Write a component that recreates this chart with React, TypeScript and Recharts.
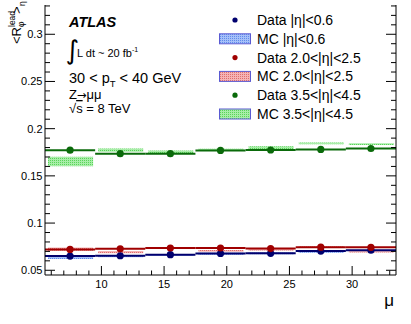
import { Bar, ComposedChart, ErrorBar, Legend, Scatter, XAxis, YAxis } from 'recharts';

// bins in mu (width 4)
const binCenters = [7.5, 11.5, 15.5, 19.5, 23.5, 27.5, 31.5];
const binHalfWidth = 2;

// data points
const dataCentral = [0.065, 0.0654, 0.0665, 0.0678, 0.068, 0.0703, 0.0712];
const dataMid = [0.0721, 0.0728, 0.0736, 0.0736, 0.073, 0.0745, 0.0743];
const dataFwd = [0.1772, 0.1735, 0.1735, 0.177, 0.1774, 0.178, 0.179];

// MC central values and band half-heights
const mcCentral = [0.0637, 0.0647, 0.0661, 0.0675, 0.0679, 0.0696, 0.0704];
const mcCentralErr = [0.0017, 0.001, 0.001, 0.001, 0.001, 0.001, 0.001];
const mcMid = [0.0725, 0.0692, 0.0736, 0.0705, 0.0722, 0.0745, 0.0702];
const mcMidErr = [0.0017, 0.0011, 0.001, 0.001, 0.0012, 0.001, 0.0013];
const mcFwd = [0.1653, 0.1772, 0.1751, 0.1777, 0.1796, 0.1844, 0.1836];
const mcFwdErr = [0.005, 0.0017, 0.0017, 0.001, 0.0017, 0.001, 0.001];

const xMajorTicks = [10, 15, 20, 25, 30];
const yMajorTicks = [0.05, 0.1, 0.15, 0.2, 0.25, 0.3];

const legendLabels = [
  'Data |η|<0.6',
  'MC |η|<0.6',
  'Data 2.0<|η|<2.5',
  'MC 2.0<|η|<2.5',
  'Data 3.5<|η|<4.5',
  'MC 3.5<|η|<4.5',
];

const W = 411;
const H = 324;
const M = { top: 5, right: 15, bottom: 49, left: 45 };
const xDomain = [5.5, 33.5];
const yDomain = [0.045, 0.331];
const FONT = '"Liberation Sans", Arial, Helvetica, sans-serif';

const col = {
  blue: '#00006e',
  red: '#a00000',
  green: '#0a6a0a',
};

const rows = binCenters.map((x, i) => ({
  x,
  ex: binHalfWidth,
  dC: dataCentral[i],
  dM: dataMid[i],
  dF: dataFwd[i],
  mC: [mcCentral[i] - mcCentralErr[i], mcCentral[i] + mcCentralErr[i]],
  mM: [mcMid[i] - mcMidErr[i], mcMid[i] + mcMidErr[i]],
  mF: [mcFwd[i] - mcFwdErr[i], mcFwd[i] + mcFwdErr[i]],
}));

// one bin in pixels
const binPx = ((W - M.left - M.right) / (xDomain[1] - xDomain[0])) * binHalfWidth * 2;

const xTicks: number[] = [];
for (let v = 6; v <= 33; v++) xTicks.push(v);
const yTicks: number[] = [];
for (let i = 0; i <= 28; i++) yTicks.push(+(0.05 + i * 0.01).toFixed(2));

const isMajor = (v: number, list: number[]) => list.some((m) => Math.abs(m - v) < 1e-6);

const BottomTick = (p: any) => {
  const major = isMajor(p.payload.value, xMajorTicks);
  return (
    <g>
      <line x1={p.x} x2={p.x} y1={p.y} y2={p.y - (major ? 9 : 4.5)} stroke="#000" />
      {major && (
        <text x={p.x} y={p.y + 12.5} textAnchor="middle" fontSize={11} fontFamily={FONT} fill="#000">
          {p.payload.value}
        </text>
      )}
    </g>
  );
};

const TopTick = (p: any) => {
  const major = isMajor(p.payload.value, xMajorTicks);
  return <line x1={p.x} x2={p.x} y1={p.y} y2={p.y + (major ? 9 : 4.5)} stroke="#000" />;
};

const LeftTick = (p: any) => {
  const major = isMajor(p.payload.value, yMajorTicks);
  return (
    <g>
      <line x1={p.x} x2={p.x + (major ? 10 : 5)} y1={p.y} y2={p.y} stroke="#000" />
      {major && (
        <text x={p.x - 2.5} y={p.y + 4} textAnchor="end" fontSize={11} fontFamily={FONT} fill="#000">
          {String(+p.payload.value.toFixed(2))}
        </text>
      )}
    </g>
  );
};

const RightTick = (p: any) => {
  const major = isMajor(p.payload.value, yMajorTicks);
  return <line x1={p.x} x2={p.x - (major ? 10 : 5)} y1={p.y} y2={p.y} stroke="#000" />;
};

const Dot = (color: string) => (p: any) => <circle cx={p.cx} cy={p.cy} r={3.6} fill={color} />;

const legendKinds = ['data', 'mc', 'data', 'mc', 'data', 'mc'];
const legendColors = [col.blue, 'url(#hatchBlue)', col.red, 'url(#hatchRed)', col.green, 'url(#hatchGreen)'];

const renderLegend = () => (
  <svg width={195} height={125} style={{ display: 'block' }}>
    {legendLabels.map((label, i) => {
      const cy = 20 + i * 18.8;
      return (
        <g key={label}>
          {legendKinds[i] === 'data' ? (
            <circle cx={25} cy={cy} r={2.6} fill={legendColors[i]} />
          ) : (
            <rect x={9.5} y={cy - 5} width={31} height={10} fill={legendColors[i]} stroke="#5a5ad2" />
          )}
          <text x={47} y={cy + 5} fontSize={14} fontFamily={FONT} fill="#000">
            {label}
          </text>
        </g>
      );
    })}
  </svg>
);

// fine dotted fill, like the ROOT hatch styles at this resolution
const Hatch = ({ id, bg, fg }: { id: string; bg: string; fg: string }) => (
  <pattern id={id} patternUnits="userSpaceOnUse" width={2} height={2}>
    <rect width={2} height={2} fill={bg} />
    <rect width={1} height={1} fill={fg} />
  </pattern>
);

export default function App() {
  return (
    <div style={{ position: 'absolute', left: 0, top: 0, width: W, height: H, background: '#fff', fontFamily: FONT }}>
      <svg width={0} height={0} style={{ position: 'absolute' }}>
        <defs>
          <Hatch id="hatchBlue" bg="#a6c0f8" fg="#5f8cec" />
          <Hatch id="hatchRed" bg="#f5b4b4" fg="#df6e6e" />
          <Hatch id="hatchGreen" bg="#a8eea8" fg="#5ad45a" />
        </defs>
      </svg>
      <ComposedChart width={W} height={H} data={rows} margin={{ top: M.top, right: 0, bottom: 0, left: 0 }}>
        <XAxis
          xAxisId={0}
          dataKey="x"
          type="number"
          domain={xDomain}
          ticks={xTicks}
          interval={0}
          height={M.bottom}
          tickSize={0}
          tickMargin={0}
          tick={BottomTick}
          tickLine={false}
          axisLine={{ stroke: '#000' }}
          allowDataOverflow
        />
        <XAxis
          xAxisId="top"
          orientation="top"
          dataKey="x"
          type="number"
          domain={xDomain}
          ticks={xTicks}
          interval={0}
          height={0}
          tickSize={0}
          tickMargin={0}
          tick={TopTick}
          tickLine={false}
          axisLine={{ stroke: '#000' }}
          allowDataOverflow
        />
        <XAxis xAxisId="bC" dataKey="x" type="number" domain={xDomain} hide allowDataOverflow />
        <XAxis xAxisId="bM" dataKey="x" type="number" domain={xDomain} hide allowDataOverflow />
        <XAxis xAxisId="bF" dataKey="x" type="number" domain={xDomain} hide allowDataOverflow />
        <YAxis
          yAxisId={0}
          type="number"
          domain={yDomain}
          ticks={yTicks}
          interval={0}
          width={M.left}
          tickSize={0}
          tickMargin={0}
          tick={LeftTick}
          tickLine={false}
          axisLine={{ stroke: '#000' }}
          allowDataOverflow
        />
        <YAxis
          yAxisId="right"
          orientation="right"
          type="number"
          domain={yDomain}
          ticks={yTicks}
          interval={0}
          width={M.right}
          tickSize={0}
          tickMargin={0}
          tick={RightTick}
          tickLine={false}
          axisLine={{ stroke: '#000' }}
          allowDataOverflow
        />

        <Bar xAxisId="bC" dataKey="mC" fill="url(#hatchBlue)" barSize={binPx} isAnimationActive={false} />
        <Bar xAxisId="bM" dataKey="mM" fill="url(#hatchRed)" barSize={binPx} isAnimationActive={false} />
        <Bar xAxisId="bF" dataKey="mF" fill="url(#hatchGreen)" barSize={binPx} isAnimationActive={false} />

        <Scatter dataKey="dC" shape={Dot(col.blue)} isAnimationActive={false}>
          <ErrorBar dataKey="ex" direction="x" width={0} stroke={col.blue} strokeWidth={2} isAnimationActive={false} />
        </Scatter>
        <Scatter dataKey="dM" shape={Dot(col.red)} isAnimationActive={false}>
          <ErrorBar dataKey="ex" direction="x" width={0} stroke={col.red} strokeWidth={2} isAnimationActive={false} />
        </Scatter>
        <Scatter dataKey="dF" shape={Dot(col.green)} isAnimationActive={false}>
          <ErrorBar dataKey="ex" direction="x" width={0} stroke={col.green} strokeWidth={2} isAnimationActive={false} />
        </Scatter>

        <Legend
          layout="vertical"
          align="center"
          verticalAlign="middle"
          wrapperStyle={{ position: 'absolute', left: 210, top: 0, width: 195 }}
          content={renderLegend}
        />
      </ComposedChart>

      <svg width={W} height={H} style={{ position: 'absolute', left: 0, top: 0, pointerEvents: 'none' }} fontFamily={FONT}>
        <text x={69} y={27} fontSize={14.5} fontWeight="bold" fontStyle="italic">ATLAS</text>
        <text x={65.5} y={59} fontSize={26} fontFamily="DejaVu Sans">∫</text>
        <text x={77} y={57} fontSize={11}>
          L dt ~ 20 fb<tspan fontSize={7} dy={-5}>-1</tspan>
        </text>
        <text x={69} y={83} fontSize={14.5}>
          30 &lt; p<tspan fontSize={9.5} dy={3.5}>T</tspan>
          <tspan dy={-3.5}> &lt; 40 GeV</tspan>
        </text>
        <text x={69} y={99} fontSize={13}>
          Z<tspan fontFamily="DejaVu Sans" fontSize={11.5}>→</tspan>μμ
        </text>
        <text x={69} y={113} fontSize={13}>
          √<tspan textDecoration="overline">s</tspan> = 8 TeV
        </text>

        <text transform="translate(21,44) rotate(-90)" fontSize={13}>
          &lt;R
          <tspan x={17} dy={-6} fontSize={8.5}>lead</tspan>
          <tspan x={17} dy={9} fontSize={8.5}>φ</tspan>
          <tspan x={30} dy={-3}>&gt;</tspan>
          <tspan x={38} dy={4} fontSize={8.5}>η</tspan>
        </text>

        <text x={394} y={306} fontSize={17} textAnchor="end">μ</text>
      </svg>
    </div>
  );
}
